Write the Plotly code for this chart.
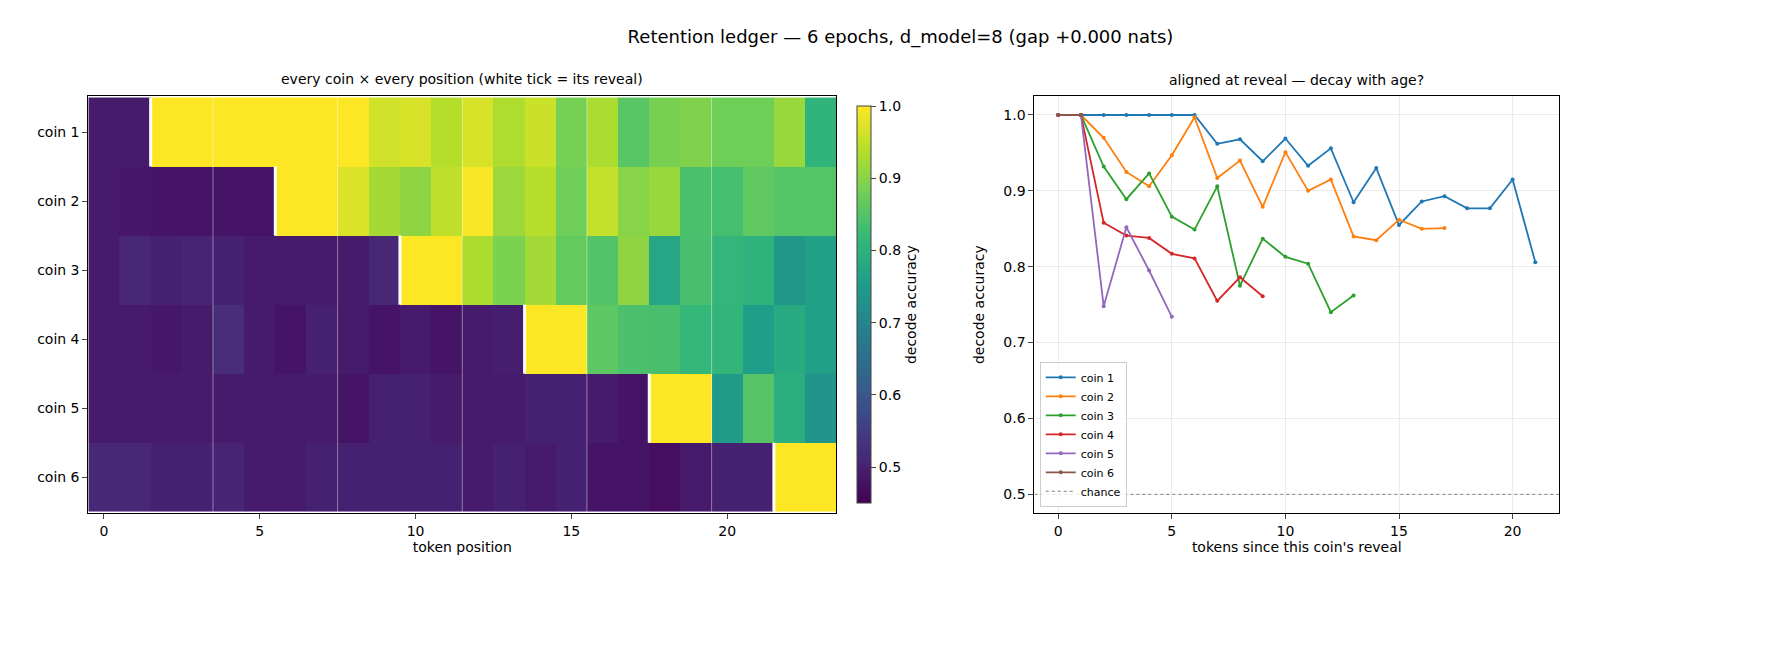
import plotly.graph_objects as go

coins = ["coin 1", "coin 2", "coin 3", "coin 4", "coin 5", "coin 6"]
reveal_pos = [1, 5, 9, 13, 17, 21]
n_pos = 24

# decode accuracy before the reveal (token positions 0..reveal)
pre_reveal = [
    [0.49, 0.49],
    [0.49, 0.485, 0.48, 0.48, 0.48, 0.48],
    [0.49, 0.51, 0.50, 0.505, 0.50, 0.49, 0.49, 0.49, 0.49, 0.51],
    [0.49, 0.49, 0.485, 0.49, 0.52, 0.49, 0.48, 0.50, 0.49, 0.48, 0.49, 0.48, 0.49, 0.495],
    [0.49, 0.49, 0.49, 0.49, 0.49, 0.49, 0.49, 0.49, 0.48, 0.50, 0.50, 0.49, 0.49, 0.49, 0.50, 0.50, 0.49, 0.48],
    [0.51, 0.51, 0.50, 0.50, 0.505, 0.49, 0.49, 0.50, 0.50, 0.50, 0.50, 0.50, 0.49, 0.50, 0.49, 0.50, 0.48, 0.48, 0.47, 0.49, 0.50, 0.50],
]

# decode accuracy by tokens since reveal
since_reveal = [
    [1.0, 1.0, 1.0, 1.0, 1.0, 1.0, 1.0, 0.962, 0.968, 0.939, 0.969, 0.933, 0.956, 0.885, 0.930, 0.855, 0.886, 0.893, 0.877, 0.877, 0.915, 0.806],
    [1.0, 1.0, 0.970, 0.925, 0.906, 0.947, 0.997, 0.917, 0.940, 0.879, 0.951, 0.900, 0.915, 0.840, 0.835, 0.862, 0.850, 0.851],
    [1.0, 1.0, 0.932, 0.889, 0.923, 0.866, 0.849, 0.906, 0.775, 0.837, 0.813, 0.804, 0.740, 0.762],
    [1.0, 1.0, 0.858, 0.841, 0.838, 0.817, 0.811, 0.755, 0.786, 0.761],
    [1.0, 1.0, 0.748, 0.852, 0.795, 0.734],
    [1.0, 1.0],
]

colors = ["#1f77b4", "#ff7f0e", "#2ca02c", "#d62728", "#9467bd", "#8c564b"]

z = [pre + post for pre, post in zip(pre_reveal, since_reveal)]

fig = go.Figure()
fig.add_trace(go.Heatmap(
    z=z, x=list(range(n_pos)), y=coins, colorscale="Viridis", zmin=0.45, zmax=1.0,
    xaxis="x", yaxis="y", showscale=True,
    colorbar=dict(x=0.47, xanchor="left", y=0.545, yanchor="middle", len=0.64, thickness=14,
                  outlinewidth=1, tickvals=[0.5, 0.6, 0.7, 0.8, 0.9, 1.0], tickformat=".1f",
                  ticks="outside", tickfont=dict(size=14),
                  title=dict(text="decode accuracy", side="right", font=dict(size=14))),
))

# faint separators and white reveal ticks
for k in range(3, n_pos - 1, 4):
    fig.add_shape(type="line", xref="x", yref="y", x0=k + 0.5, x1=k + 0.5, y0=-0.5, y1=5.5,
                  line=dict(color="rgba(255,255,255,0.6)", width=0.7))
for i, rp in enumerate(reveal_pos):
    fig.add_shape(type="line", xref="x", yref="y", x0=rp + 0.5, x1=rp + 0.5, y0=i - 0.5, y1=i + 0.5,
                  line=dict(color="white", width=3))

for name, vals, c in zip(coins, since_reveal, colors):
    fig.add_trace(go.Scatter(x=list(range(len(vals))), y=vals, mode="lines+markers", name=name,
                             line=dict(color=c, width=1.8), marker=dict(size=4, color=c),
                             xaxis="x2", yaxis="y2"))
fig.add_trace(go.Scatter(x=[-1.05, 22.05], y=[0.5, 0.5], mode="lines", name="chance",
                         line=dict(color="gray", width=1, dash="dot"), xaxis="x2", yaxis="y2"))

ax = dict(showline=True, linecolor="black", mirror=True, ticks="outside", zeroline=False,
          tickfont=dict(size=14))
fig.update_layout(
    width=1785, height=652, margin=dict(l=0, r=0, t=0, b=0),
    plot_bgcolor="white", paper_bgcolor="white",
    font=dict(family="DejaVu Sans", size=14, color="black"),
    title=dict(text="Retention ledger — 6 epochs, d_model=8 (gap +0.000 nats)", x=0.5, y=0.965,
               xanchor="center", font=dict(size=18)),
    xaxis=dict(domain=[0.045, 0.464], range=[-0.5, 23.5], tickvals=[0, 5, 10, 15, 20],
               title=dict(text="token position", standoff=4, font=dict(size=14)), showgrid=False, **ax),
    yaxis=dict(domain=[0.225, 0.865], autorange="reversed", showgrid=False, **ax),
    xaxis2=dict(domain=[0.575, 0.869], range=[-1.05, 22.05], tickvals=[0, 5, 10, 15, 20],
                title=dict(text="tokens since this coin's reveal", standoff=4, font=dict(size=14)),
                showgrid=True, gridcolor="#ebebeb", anchor="y2", **ax),
    yaxis2=dict(domain=[0.225, 0.865], range=[0.475, 1.025], tickvals=[0.5, 0.6, 0.7, 0.8, 0.9, 1.0],
                tickformat=".1f", title=dict(text="decode accuracy", font=dict(size=14)),
                showgrid=True, gridcolor="#ebebeb", anchor="x2", **ax),
    legend=dict(x=0.578, y=0.235, xanchor="left", yanchor="bottom", font=dict(size=11),
                bordercolor="#cccccc", borderwidth=1, bgcolor="rgba(255,255,255,0.8)"),
    annotations=[
        dict(text="every coin × every position (white tick = its reveal)", xref="paper", yref="paper",
             x=0.2545, y=0.875, xanchor="center", yanchor="bottom", showarrow=False, font=dict(size=14)),
        dict(text="aligned at reveal — decay with age?", xref="paper", yref="paper",
             x=0.722, y=0.875, xanchor="center", yanchor="bottom", showarrow=False, font=dict(size=14)),
    ],
)

fig.write_html("out.html")
